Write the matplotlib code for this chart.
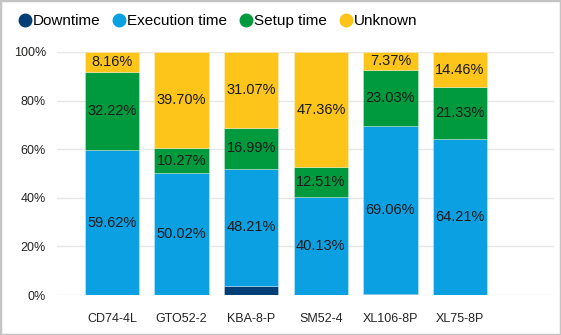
import matplotlib
matplotlib.use("Agg")
import matplotlib.pyplot as plt
from matplotlib.lines import Line2D
from matplotlib.patches import Rectangle
import numpy as np

plt.rcParams["font.family"] = ["Liberation Sans", "DejaVu Sans"]

categories = ["CD74-4L", "GTO52-2", "KBA-8-P", "SM52-4", "XL106-8P", "XL75-8P"]
downtime = [0.00, 0.01, 3.73, 0.00, 0.54, 0.00]
execution = [59.62, 50.02, 48.21, 40.13, 69.06, 64.21]
setup = [32.22, 10.27, 16.99, 12.51, 23.03, 21.33]
unknown = [8.16, 39.70, 31.07, 47.36, 7.37, 14.46]

series_names = ["Downtime", "Execution time", "Setup time", "Unknown"]
series_values = [downtime, execution, setup, unknown]
colors = ["#033f75", "#0ba0e2", "#009a3e", "#fdc51a"]

fig = plt.figure(figsize=(5.61, 3.35), dpi=100)
ax = fig.add_axes([57 / 561, 40 / 335, 497 / 561, 243 / 335])

x = np.arange(len(categories))
bottom = np.zeros(len(categories))
for name, vals, color in zip(series_names, series_values, colors):
    vals = np.array(vals)
    ax.bar(x, vals, bottom=bottom, width=0.78, color=color, zorder=2,
           edgecolor=(1, 1, 1, 0.35), linewidth=0.6)
    if name != "Downtime":
        for xi, b, v in zip(x, bottom, vals):
            ax.text(xi, b + v / 2, f"{v:.2f}%", ha="center", va="center",
                    fontsize=10.5, color="#1a1a1a", zorder=3)
    bottom += vals

ax.set_xlim(-0.79, 6.35)
ax.set_ylim(0, 100)
ax.set_yticks([0, 20, 40, 60, 80, 100])
ax.set_yticklabels([f"{t}%" for t in [0, 20, 40, 60, 80, 100]])
ax.set_xticks(x)
ax.set_xticklabels(categories)
ax.tick_params(axis="both", length=0, labelsize=9, colors="#252423")
ax.tick_params(axis="x", pad=13)
ax.tick_params(axis="y", pad=8)
ax.yaxis.grid(True, color="#e6e6e6", linewidth=1, zorder=0)
for s in ax.spines.values():
    s.set_visible(False)

handles = [Line2D([], [], marker="o", linestyle="", markersize=9, color=c) for c in colors]
fig.legend(handles, series_names, loc="upper left", bbox_to_anchor=(0.012, 0.99),
           ncol=4, frameon=False, fontsize=11, handletextpad=0.0,
           columnspacing=0.75, handlelength=1.0, borderaxespad=0.3)

fig.patches.append(Rectangle((0, 0), 1, 1, transform=fig.transFigure, fill=False,
                             edgecolor="#c4c4c4", linewidth=2.5))

fig.savefig("out.png", dpi=100)
